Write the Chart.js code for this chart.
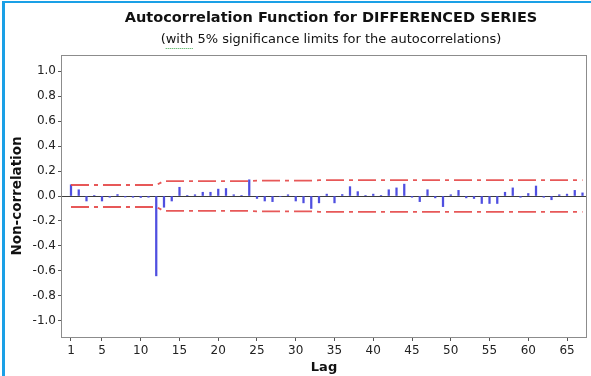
<!DOCTYPE html>
<html>
<head>
<meta charset="utf-8">
<script src="https://cdn.jsdelivr.net/npm/chart.js@4/dist/chart.umd.min.js"></script>
<style>
  html, body { margin: 0; padding: 0; background: #fff; }
  #wrap { position: relative; width: 591px; height: 376px; }
</style>
</head>
<body>
<div id="wrap"><canvas id="acf" width="591" height="376"></canvas></div>
<script>
// Lags of the differenced series
const lags = [1, 2, 3, 4, 5, 6, 7, 8, 9, 10, 11, 12, 13, 14, 15, 16, 17, 18, 19, 20,
  21, 22, 23, 24, 25, 26, 27, 28, 29, 30, 31, 32, 33, 34, 35, 36, 37, 38, 39, 40,
  41, 42, 43, 44, 45, 46, 47, 48, 49, 50, 51, 52, 53, 54, 55, 56, 57, 58, 59, 60,
  61, 62, 63, 64, 65, 66, 67];

// Sample autocorrelation at each lag
const acf = [0.09, 0.05, -0.04, 0.003, -0.04, -0.01, 0.012, -0.008, -0.01, -0.012,
  -0.01, -0.64, -0.09, -0.04, 0.07, 0.005, 0.01, 0.03, 0.03, 0.055,
  0.06, 0.01, 0.005, 0.13, -0.02, -0.04, -0.045, -0.005, 0.01, -0.04,
  -0.055, -0.1, -0.055, 0.015, -0.055, 0.012, 0.075, 0.035, 0.005, 0.015,
  0.005, 0.05, 0.065, 0.095, -0.01, -0.045, 0.05, -0.015, -0.085, 0.01,
  0.045, -0.015, -0.02, -0.06, -0.06, -0.06, 0.03, 0.065, -0.01, 0.02,
  0.08, -0.01, -0.03, 0.01, 0.015, 0.045, 0.025];

// 5% significance limits
const upperLimit = [0.088, 0.088, 0.088, 0.088, 0.088, 0.088, 0.088, 0.088, 0.088, 0.088,
  0.088, 0.088, 0.120, 0.120, 0.120, 0.120, 0.120, 0.120, 0.120, 0.120,
  0.120, 0.120, 0.120, 0.120, 0.123, 0.123, 0.123, 0.123, 0.123, 0.123,
  0.123, 0.123, 0.127, 0.127, 0.127, 0.127, 0.127, 0.127, 0.127, 0.127,
  0.127, 0.127, 0.127, 0.127, 0.127, 0.127, 0.127, 0.127, 0.127, 0.127,
  0.127, 0.127, 0.127, 0.127, 0.127, 0.127, 0.127, 0.127, 0.127, 0.127,
  0.127, 0.127, 0.127, 0.127, 0.127, 0.127, 0.127];
const lowerLimit = [-0.088, -0.088, -0.088, -0.088, -0.088, -0.088, -0.088, -0.088, -0.088, -0.088,
  -0.088, -0.088, -0.120, -0.120, -0.120, -0.120, -0.120, -0.120, -0.120, -0.120,
  -0.120, -0.120, -0.120, -0.120, -0.123, -0.123, -0.123, -0.123, -0.123, -0.123,
  -0.123, -0.123, -0.127, -0.127, -0.127, -0.127, -0.127, -0.127, -0.127, -0.127,
  -0.127, -0.127, -0.127, -0.127, -0.127, -0.127, -0.127, -0.127, -0.127, -0.127,
  -0.127, -0.127, -0.127, -0.127, -0.127, -0.127, -0.127, -0.127, -0.127, -0.127,
  -0.127, -0.127, -0.127, -0.127, -0.127, -0.127, -0.127];

// Axis tick labels
const xTicks = [1, 5, 10, 15, 20, 25, 30, 35, 40, 45, 50, 55, 60, 65];
const yTicks = [-1.0, -0.8, -0.6, -0.4, -0.2, 0.0, 0.2, 0.4, 0.6, 0.8, 1.0];

const titleText = 'Autocorrelation Function for DIFFERENCED SERIES';
const subtitleText = '(with 5% significance limits for the autocorrelations)';

const FONT = '"DejaVu Sans", Verdana, sans-serif';
const limitColor = 'rgba(228, 70, 70, 0.9)';
const limitDash = [18, 5, 4, 5];

const pairs = (ys) => lags.map((lag, i) => ({ x: lag, y: ys[i] }));

// Page frame, plot box, headings
const decorations = {
  id: 'decorations',
  beforeDraw(chart) {
    const { ctx, width, height } = chart;
    ctx.save();
    ctx.fillStyle = '#ffffff';
    ctx.fillRect(0, 0, width, height);
    ctx.fillStyle = '#1aa0e6';
    ctx.fillRect(2, 1, width - 2, 2);
    ctx.fillRect(2, 1, 3, height - 1);
    ctx.restore();
  },
  afterDraw(chart) {
    const { ctx, chartArea: a } = chart;
    ctx.save();
    ctx.strokeStyle = '#8c8c8c';
    ctx.lineWidth = 1;
    ctx.strokeRect(Math.round(a.left) - 0.5, Math.round(a.top) + 0.5,
      Math.round(a.right - a.left) + 1, Math.round(a.bottom - a.top));

    const cx = 331;
    ctx.fillStyle = '#111';
    ctx.textAlign = 'center';
    ctx.textBaseline = 'middle';
    ctx.font = 'bold 14.5px ' + FONT;
    ctx.fillText(titleText, cx, 18);
    ctx.font = '13px ' + FONT;
    ctx.fillText(subtitleText, cx, 40);

    // spell-check style dotted underline beneath "with"
    const full = ctx.measureText(subtitleText).width;
    const x0 = cx - full / 2 + ctx.measureText('(').width;
    const w = ctx.measureText('with').width;
    ctx.strokeStyle = '#3aa84a';
    ctx.lineWidth = 1;
    ctx.setLineDash([1, 1]);
    ctx.beginPath();
    ctx.moveTo(x0, 48.5);
    ctx.lineTo(x0 + w, 48.5);
    ctx.stroke();
    ctx.restore();
  }
};

new Chart(document.getElementById('acf'), {
  data: {
    datasets: [
      {
        type: 'bar',
        data: pairs(acf),
        backgroundColor: '#4f4fe0',
        borderWidth: 0,
        barThickness: 1.6,
        order: 2
      },
      {
        type: 'line',
        data: pairs(upperLimit),
        borderColor: limitColor,
        borderWidth: 1.8,
        borderDash: limitDash,
        pointRadius: 0,
        tension: 0,
        fill: false,
        order: 1
      },
      {
        type: 'line',
        data: pairs(lowerLimit),
        borderColor: limitColor,
        borderWidth: 1.8,
        borderDash: limitDash,
        pointRadius: 0,
        tension: 0,
        fill: false,
        order: 1
      }
    ]
  },
  options: {
    responsive: false,
    animation: false,
    devicePixelRatio: 1,
    layout: { padding: { left: 0, right: 5, top: 55, bottom: 0 } },
    plugins: {
      legend: { display: false },
      tooltip: { enabled: false },
      title: { display: false }
    },
    scales: {
      x: {
        type: 'linear',
        offset: false,
        min: -0.16,
        max: 67.45,
        afterBuildTicks: (axis) => { axis.ticks = xTicks.map(v => ({ value: v })); },
        afterFit: (axis) => { axis.height = 39; },
        ticks: {
          autoSkip: false,
          maxRotation: 0,
          padding: 3,
          color: '#222',
          font: { family: FONT, size: 12 }
        },
        grid: {
          offset: false,
          drawOnChartArea: false,
          tickLength: 4,
          tickColor: '#555'
        },
        border: { display: false },
        title: {
          display: true,
          text: 'Lag',
          color: '#111',
          font: { family: FONT, size: 13, weight: 'bold' },
          padding: { top: 0, bottom: 1 }
        }
      },
      y: {
        type: 'linear',
        min: -1.13,
        max: 1.13,
        afterBuildTicks: (axis) => { axis.ticks = yTicks.map(v => ({ value: v })); },
        afterFit: (axis) => { axis.width = 62; },
        ticks: {
          padding: 2,
          color: '#222',
          font: { family: FONT, size: 12 },
          callback: (v) => Number(v).toFixed(1)
        },
        grid: {
          color: (c) => (c.tick && Math.abs(c.tick.value) < 1e-9 ? '#3c3c3c' : 'rgba(0,0,0,0)'),
          tickColor: '#555',
          tickLength: 4,
          lineWidth: 1
        },
        border: { display: false },
        title: {
          display: true,
          text: 'Non-correlation',
          color: '#111',
          font: { family: FONT, size: 13.5, weight: 'bold' },
          padding: { top: 9, bottom: 0 }
        }
      }
    }
  },
  plugins: [decorations]
});
</script>
</body>
</html>
